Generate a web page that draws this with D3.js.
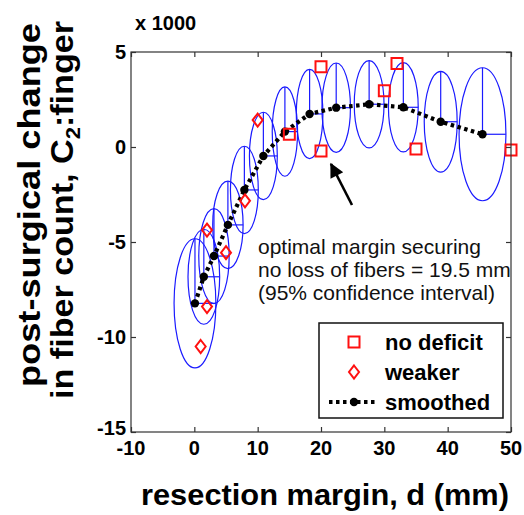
<!DOCTYPE html>
<html>
<head>
<meta charset="utf-8">
<script src="https://cdn.jsdelivr.net/npm/d3@7"></script>
<style>
  body { margin: 0; background: #fff; }
  text { font-family: "Liberation Sans", Arial, sans-serif; }
</style>
</head>
<body>
<script>
// values in units of 1000 fibers
const smoothD = [0.1, 1.5, 3.1, 5.3, 7.9, 10.9, 14.3, 18.2, 22.4, 27.6, 33.0, 38.9, 45.5];
const smoothC = [-8.23, -6.83, -5.74, -4.1, -2.26, -0.47, 0.81, 1.74, 2.07, 2.25, 2.09, 1.33, 0.67];
const ciHalfD = [3.3, 2.5, 2.4, 2.4, 2.2, 2.2, 2.0, 2.1, 2.25, 2.35, 2.35, 2.6, 3.7];
const ciHalfC = [3.4, 2.5, 2.5, 2.3, 2.3, 2.3, 2.35, 2.35, 2.35, 2.3, 2.35, 2.65, 3.5];

const noDeficitD = [15, 20, 20, 30, 32, 35, 50];
const noDeficitC = [0.67, 4.23, -0.21, 2.96, 4.4, -0.1, -0.16];

const weakerD = [1, 2, 2, 5, 8, 10];
const weakerC = [-10.5, -8.4, -4.37, -5.56, -2.83, 1.42];

const xTicks = [-10, 0, 10, 20, 30, 40, 50];
const yTicks = [-15, -10, -5, 0, 5];
const legendLabels = ["no deficit", "weaker", "smoothed"];
const noteLines = ["optimal margin securing", "no loss of fibers = 19.5 mm", "(95% confidence interval)"];

const W = 524, H = 515;
const mLeft = 131, mRight = 511, mTop = 52, mBottom = 432;

const x = d3.scaleLinear().domain([-10, 50]).range([mLeft, mRight]);
const y = d3.scaleLinear().domain([-15, 5]).range([mBottom, mTop]);

const svg = d3.select("body").append("svg")
    .attr("width", W).attr("height", H);

const blue = "#1a1aff", red = "#ff1010";

// ellipses (95% CI)
const smooth = smoothD.map((d, i) => ({d, c: smoothC[i], rd: ciHalfD[i], rc: ciHalfC[i]}));

const ell = svg.append("g");
ell.selectAll("ellipse").data(smooth).join("ellipse")
    .attr("cx", p => x(p.d)).attr("cy", p => y(p.c))
    .attr("rx", p => x(p.d + p.rd) - x(p.d))
    .attr("ry", p => y(p.c) - y(p.c + p.rc))
    .attr("fill", "none").attr("stroke", blue).attr("stroke-width", 1.2);
ell.selectAll("line.v").data(smooth).join("line").attr("class", "v")
    .attr("x1", p => x(p.d)).attr("x2", p => x(p.d))
    .attr("y1", p => y(p.c)).attr("y2", p => y(p.c + p.rc))
    .attr("stroke", blue).attr("stroke-width", 1.2);
ell.selectAll("line.h").data(smooth).join("line").attr("class", "h")
    .attr("x1", p => x(p.d)).attr("x2", p => x(p.d + p.rd))
    .attr("y1", p => y(p.c)).attr("y2", p => y(p.c))
    .attr("stroke", blue).attr("stroke-width", 1.2);

// smoothed dotted line
const line = d3.line().x(p => x(p.d)).y(p => y(p.c));
svg.append("path").datum(smooth)
    .attr("d", line).attr("fill", "none")
    .attr("stroke", "#000").attr("stroke-width", 4.2)
    .attr("stroke-dasharray", "3.5,3.5");
svg.append("g").selectAll("circle").data(smooth).join("circle")
    .attr("cx", p => x(p.d)).attr("cy", p => y(p.c)).attr("r", 4.2)
    .attr("fill", "#000");

// markers
const squarePath = "M-5.5,-5.5H5.5V5.5H-5.5Z";
const diamondPath = "M0,-6.5L5,0L0,6.5L-5,0Z";
svg.append("g").selectAll("path").data(noDeficitD.map((d, i) => [d, noDeficitC[i]])).join("path")
    .attr("transform", p => `translate(${x(p[0])},${y(p[1])})`)
    .attr("d", squarePath).attr("fill", "none").attr("stroke", red).attr("stroke-width", 2);
svg.append("g").selectAll("path").data(weakerD.map((d, i) => [d, weakerC[i]])).join("path")
    .attr("transform", p => `translate(${x(p[0])},${y(p[1])})`)
    .attr("d", diamondPath).attr("fill", "none").attr("stroke", red).attr("stroke-width", 2);

// arrow
svg.append("defs").append("marker")
    .attr("id", "head").attr("viewBox", "0 0 10 10")
    .attr("refX", 9).attr("refY", 5)
    .attr("markerWidth", 7).attr("markerHeight", 5.5)
    .attr("markerUnits", "strokeWidth").attr("orient", "auto")
    .append("path").attr("d", "M0,0L10,5L0,10Z").attr("fill", "#000");
svg.append("line")
    .attr("x1", 352).attr("y1", 205).attr("x2", 331).attr("y2", 164)
    .attr("stroke", "#000").attr("stroke-width", 2.6)
    .attr("marker-end", "url(#head)");

svg.append("g").selectAll("text").data(noteLines).join("text")
    .attr("x", 258).attr("y", (t, i) => 254 + i * 23)
    .attr("font-size", 21).attr("fill", "#111")
    .text(t => t);

// axes box + inward ticks
const axisCol = "#333";
svg.append("rect").attr("x", mLeft).attr("y", mTop)
    .attr("width", mRight - mLeft).attr("height", mBottom - mTop)
    .attr("fill", "none").attr("stroke", axisCol).attr("stroke-width", 1.2);

const xAxisB = d3.axisBottom(x).tickValues(xTicks).tickSize(-5).tickFormat("");
const xAxisT = d3.axisTop(x).tickValues(xTicks).tickSize(-5).tickFormat("");
const yAxisL = d3.axisLeft(y).tickValues(yTicks).tickSize(-5).tickFormat("");
const yAxisR = d3.axisRight(y).tickValues(yTicks).tickSize(-5).tickFormat("");
[[xAxisB, `translate(0,${mBottom})`], [xAxisT, `translate(0,${mTop})`],
 [yAxisL, `translate(${mLeft},0)`], [yAxisR, `translate(${mRight},0)`]].forEach(([ax, tr]) => {
  const g = svg.append("g").attr("transform", tr).call(ax);
  g.select(".domain").remove();
  g.selectAll("line").attr("stroke", axisCol).attr("stroke-width", 1.2);
});

svg.append("g").selectAll("text").data(xTicks).join("text")
    .attr("x", d => x(d)).attr("y", 455)
    .attr("text-anchor", "middle").attr("font-size", 20).attr("font-weight", "bold")
    .text(d => d);
svg.append("g").selectAll("text").data(yTicks).join("text")
    .attr("x", 126).attr("y", d => y(d) + 7 - (d === -15 ? 4 : 0))
    .attr("text-anchor", "end").attr("font-size", 20).attr("font-weight", "bold")
    .text(d => d);

svg.append("text").attr("x", 135).attr("y", 30)
    .attr("font-size", 20).attr("font-weight", "bold").text("x 1000");

// axis labels
svg.append("text").attr("x", 325).attr("y", 505)
    .attr("text-anchor", "middle").attr("font-size", 30).attr("font-weight", "bold")
    .attr("textLength", 368).attr("lengthAdjust", "spacingAndGlyphs")
    .text("resection margin, d (mm)");

const yl = svg.append("g").attr("transform", "rotate(-90)");
yl.append("text").attr("x", -205).attr("y", 40)
    .attr("text-anchor", "middle").attr("font-size", 31).attr("font-weight", "bold")
    .attr("textLength", 364).attr("lengthAdjust", "spacingAndGlyphs")
    .text("post-surgical change");
const l2 = yl.append("text").attr("x", -210).attr("y", 73)
    .attr("text-anchor", "middle").attr("font-size", 31).attr("font-weight", "bold")
    .attr("textLength", 378).attr("lengthAdjust", "spacingAndGlyphs");
l2.append("tspan").text("in fiber count, C");
l2.append("tspan").attr("font-size", 20).attr("dy", 7).text("2");
l2.append("tspan").attr("dy", -7).text(":finger");

// legend
const lg = svg.append("g");
lg.append("rect").attr("x", 319).attr("y", 323).attr("width", 184).attr("height", 95)
    .attr("fill", "#fff").attr("stroke", "#111").attr("stroke-width", 1.5);
const ly = [342, 372, 402];
lg.append("path").attr("transform", `translate(354,${ly[0]})`).attr("d", squarePath)
    .attr("fill", "none").attr("stroke", red).attr("stroke-width", 2);
lg.append("path").attr("transform", `translate(354,${ly[1]})`).attr("d", diamondPath)
    .attr("fill", "none").attr("stroke", red).attr("stroke-width", 2);
lg.append("line").attr("x1", 329).attr("x2", 377).attr("y1", ly[2]).attr("y2", ly[2])
    .attr("stroke", "#000").attr("stroke-width", 4.2).attr("stroke-dasharray", "3.5,3.5");
lg.append("circle").attr("cx", 354).attr("cy", ly[2]).attr("r", 4.2).attr("fill", "#000");
lg.selectAll("text").data(legendLabels).join("text")
    .attr("x", 385).attr("y", (t, i) => ly[i] + 8)
    .attr("font-size", 22).attr("font-weight", "bold")
    .text(t => t);
</script>
</body>
</html>
